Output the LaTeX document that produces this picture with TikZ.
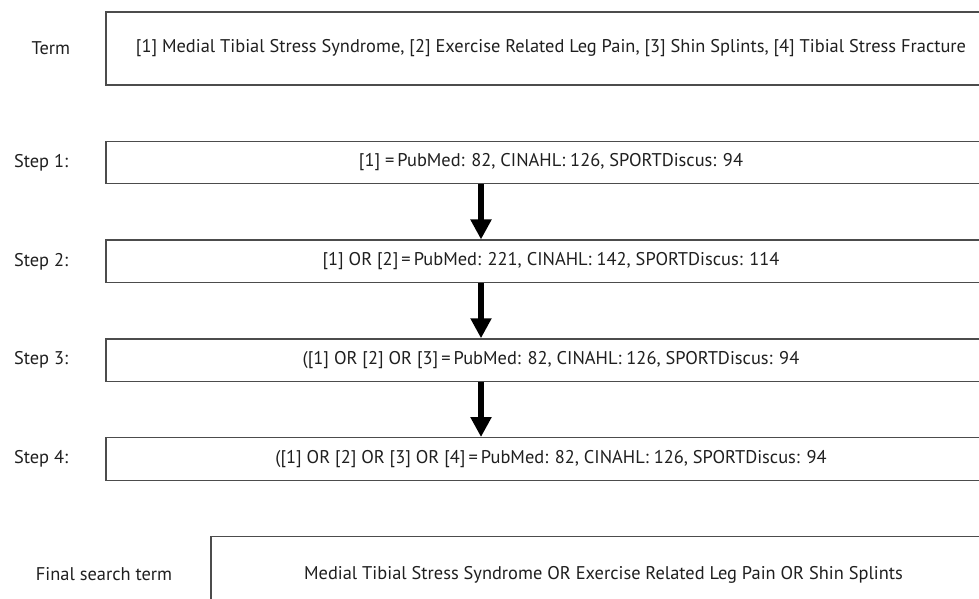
\documentclass[tikz,border=0pt]{standalone}
\usepackage{fontspec}
\setmainfont{PT Sans}
\usetikzlibrary{positioning, arrows.meta}

\begin{document}
\begin{tikzpicture}[x=1pt, y=-1pt, node distance=55pt, font=\fontsize{18.4}{22}\selectfont, text=black!88,
  stepbox/.style={draw=black!70, line width=1.3pt, rectangle, minimum width=890pt, minimum height=42.5pt, inner sep=0pt},
  lbl/.style={inner sep=0pt},
  flow/.style={-{Triangle[width=20pt, length=20pt]}, line width=6.5pt, black}]
  \useasboundingbox (0,0) rectangle (979,598);
  % Suchbegriffe
  \node[stepbox, minimum height=73pt] (term) at (551,48.5) {[1] Medial Tibial Stress Syndrome, [2] Exercise Related Leg Pain, [3] Shin Splints, [4] Tibial Stress Fracture};
  \node[lbl, left=35pt of term] (termlbl) {Term};

  % Schritte 1-4
  \node[stepbox, below=55pt of term] (step1) {[1] =\,PubMed: 82, CINAHL: 126, SPORTDiscus: 94};
  \node[stepbox, below=55pt of step1] (step2) {[1] OR [2]\,=\,PubMed: 221, CINAHL: 142, SPORTDiscus: 114};
  \node[stepbox, below=55pt of step2] (step3) {([1] OR [2] OR [3]\,=\,PubMed: 82, CINAHL: 126, SPORTDiscus: 94};
  \node[stepbox, below=55pt of step3] (step4) {([1] OR [2] OR [3] OR [4]\,=\,PubMed: 82, CINAHL: 126, SPORTDiscus: 94};
  \foreach \i in {1,...,4} {
    \node[lbl, left=37pt of step\i] (steplbl\i) {Step \i:};
  }
  % Pfeile zwischen den Schritten
  \foreach \i/\j in {1/2, 2/3, 3/4} {
    \draw[flow] ([xshift=-70pt]step\i.south) -- ([xshift=-70pt]step\j.north);
  }

  % Endgueltiger Suchbegriff
  \node[stepbox, minimum width=785pt, minimum height=76pt, below=55pt of step4.south east, anchor=north east] (final) {Medial Tibial Stress Syndrome OR Exercise Related Leg Pain OR Shin Splints};
  \node[lbl, left=38pt of final] (finallbl) {Final search term};
\end{tikzpicture}
\end{document}
